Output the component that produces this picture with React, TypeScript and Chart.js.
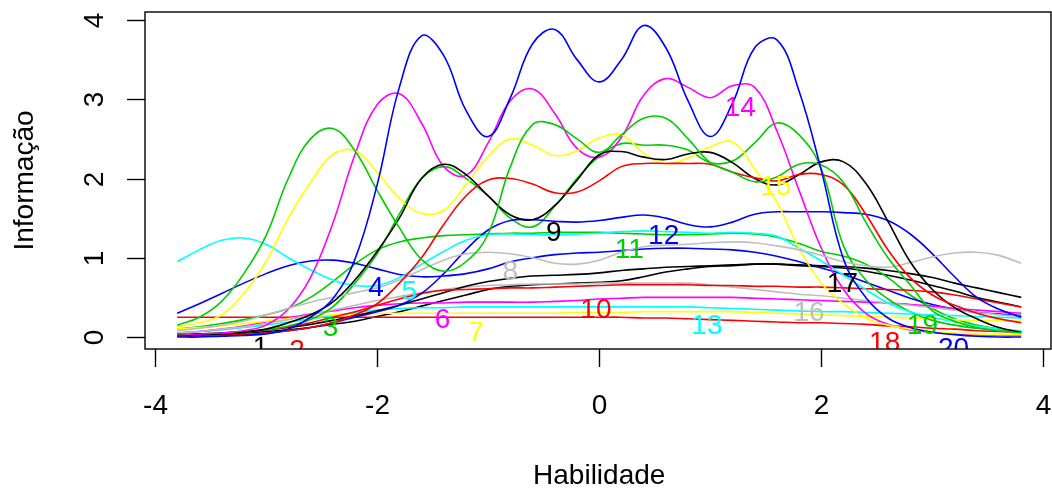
import { useEffect, useRef } from "react";
import { Chart, registerables } from "chart.js";

Chart.register(...registerables);

// Ability grid (theta) shared by every item curve
const theta = [
  -3.8, -3.6, -3.4, -3.2, -3.0, -2.8, -2.6, -2.4, -2.2, -2.0, -1.8, -1.6, -1.4,
  -1.2, -1.0, -0.8, -0.6, -0.4, -0.2, 0.0, 0.2, 0.4, 0.6, 0.8, 1.0, 1.2, 1.4,
  1.6, 1.8, 2.0, 2.2, 2.4, 2.6, 2.8, 3.0, 3.2, 3.4, 3.6, 3.8,
];

// Item information curves, one array per item
const item01 = [0.02,0.03,0.04,0.05,0.07,0.09,0.12,0.16,0.2,0.26,0.32,0.39,0.46,0.53,0.6,0.64,0.66,0.67,0.68,0.69,0.71,0.76,0.82,0.86,0.89,0.9,0.92,0.92,0.9,0.89,0.87,0.83,0.78,0.72,0.65,0.58,0.5,0.44,0.38];
const item02 = [0.25,0.25,0.25,0.25,0.25,0.25,0.25,0.25,0.25,0.25,0.25,0.25,0.25,0.25,0.25,0.25,0.25,0.25,0.25,0.25,0.25,0.24,0.24,0.23,0.22,0.21,0.2,0.19,0.18,0.18,0.17,0.16,0.14,0.13,0.11,0.1,0.08,0.07,0.06];
const item03 = [0.1,0.13,0.17,0.22,0.28,0.36,0.5,0.7,0.92,1.1,1.2,1.25,1.28,1.29,1.3,1.31,1.31,1.32,1.32,1.32,1.31,1.3,1.29,1.29,1.3,1.31,1.3,1.26,1.18,1.08,1.02,0.92,0.75,0.53,0.36,0.23,0.15,0.1,0.07];
const item04 = [0.3,0.42,0.55,0.68,0.8,0.9,0.96,0.97,0.93,0.86,0.79,0.76,0.77,0.8,0.86,0.95,1.0,1.04,1.06,1.07,1.09,1.11,1.12,1.12,1.11,1.1,1.07,1.02,0.95,0.87,0.79,0.69,0.59,0.49,0.41,0.35,0.31,0.29,0.27];
const item05 = [0.05,0.07,0.09,0.12,0.15,0.19,0.23,0.27,0.31,0.34,0.36,0.37,0.37,0.38,0.38,0.38,0.38,0.38,0.38,0.38,0.38,0.38,0.38,0.38,0.37,0.36,0.35,0.34,0.33,0.32,0.32,0.31,0.3,0.29,0.28,0.27,0.26,0.25,0.24];
const item06 = [0.05,0.07,0.1,0.14,0.19,0.24,0.29,0.33,0.37,0.4,0.42,0.43,0.43,0.44,0.44,0.44,0.44,0.45,0.46,0.48,0.49,0.5,0.5,0.5,0.5,0.5,0.49,0.48,0.47,0.46,0.45,0.44,0.43,0.41,0.39,0.36,0.34,0.32,0.3];
const item07 = [0.1,0.12,0.14,0.17,0.2,0.23,0.26,0.28,0.29,0.3,0.3,0.3,0.3,0.3,0.3,0.3,0.3,0.3,0.31,0.31,0.31,0.32,0.32,0.32,0.32,0.32,0.31,0.3,0.29,0.28,0.27,0.26,0.25,0.24,0.23,0.22,0.21,0.21,0.2];
const item08 = [0.05,0.07,0.1,0.13,0.17,0.22,0.28,0.34,0.4,0.46,0.51,0.56,0.6,0.63,0.65,0.66,0.67,0.67,0.67,0.68,0.68,0.68,0.68,0.68,0.66,0.63,0.6,0.57,0.54,0.52,0.49,0.46,0.43,0.4,0.37,0.34,0.31,0.28,0.26];
const item09 = [0.03,0.04,0.05,0.07,0.09,0.12,0.16,0.21,0.27,0.33,0.4,0.48,0.56,0.64,0.7,0.74,0.77,0.78,0.79,0.81,0.84,0.86,0.88,0.89,0.9,0.91,0.92,0.92,0.91,0.9,0.89,0.87,0.84,0.8,0.75,0.68,0.62,0.56,0.5];
const item10 = [0.02,0.03,0.04,0.06,0.09,0.13,0.18,0.25,0.32,0.4,0.48,0.55,0.59,0.6,0.61,0.62,0.62,0.63,0.64,0.65,0.66,0.66,0.66,0.66,0.65,0.65,0.64,0.64,0.63,0.63,0.62,0.61,0.6,0.59,0.57,0.53,0.48,0.43,0.38];
const item11 = [0.02,0.03,0.04,0.06,0.09,0.14,0.22,0.38,0.68,1.05,1.55,2.0,2.15,2.0,1.78,1.5,1.39,1.65,2.0,2.28,2.44,2.42,2.42,2.36,2.2,2.22,2.45,2.7,2.55,2.12,1.15,0.72,0.48,0.32,0.21,0.15,0.11,0.08,0.06];
const item12 = [0.01,0.01,0.02,0.03,0.05,0.08,0.12,0.18,0.25,0.32,0.4,0.55,0.8,1.1,1.35,1.47,1.48,1.46,1.45,1.47,1.51,1.54,1.5,1.42,1.39,1.45,1.55,1.58,1.58,1.58,1.57,1.55,1.47,1.3,1.05,0.76,0.5,0.35,0.25];
const item13 = [0.95,1.1,1.22,1.25,1.17,1.0,0.85,0.72,0.65,0.65,0.75,0.92,1.08,1.22,1.29,1.3,1.29,1.29,1.3,1.31,1.33,1.34,1.33,1.32,1.31,1.32,1.31,1.27,1.12,0.96,0.78,0.6,0.43,0.32,0.25,0.19,0.14,0.1,0.08];
const item14 = [0.02,0.03,0.05,0.08,0.15,0.35,0.75,1.43,2.3,2.93,3.07,2.7,2.15,2.04,2.45,2.98,3.13,2.82,2.38,2.27,2.52,3.05,3.26,3.15,3.02,3.17,3.15,2.6,1.85,1.12,0.6,0.3,0.16,0.09,0.06,0.04,0.03,0.02,0.02];
const item15 = [0.13,0.18,0.28,0.55,0.95,1.5,1.95,2.3,2.35,2.08,1.75,1.56,1.6,1.92,2.28,2.5,2.42,2.29,2.35,2.51,2.55,2.32,2.19,2.26,2.4,2.46,2.12,1.7,1.12,0.68,0.42,0.24,0.15,0.1,0.07,0.05,0.04,0.03,0.03];
const item16 = [0.08,0.11,0.15,0.2,0.28,0.36,0.44,0.5,0.56,0.62,0.72,0.85,0.97,1.05,1.07,1.05,1.0,0.93,0.92,0.97,1.07,1.14,1.16,1.17,1.19,1.2,1.19,1.15,1.1,1.03,0.95,0.9,0.88,0.94,1.01,1.06,1.07,1.03,0.93];
const item17 = [0.01,0.02,0.03,0.06,0.1,0.18,0.28,0.44,0.72,1.08,1.5,2.0,2.18,2.05,1.78,1.54,1.48,1.66,1.98,2.3,2.34,2.27,2.24,2.31,2.33,2.2,2.0,1.92,2.05,2.21,2.21,1.94,1.46,0.95,0.6,0.37,0.23,0.12,0.06];
const item18 = [0.01,0.01,0.02,0.03,0.05,0.08,0.12,0.18,0.28,0.42,0.68,1.0,1.42,1.78,1.98,2.0,1.93,1.82,1.83,1.97,2.15,2.19,2.19,2.19,2.18,2.08,2.01,1.97,2.05,2.05,1.92,1.55,1.1,0.75,0.53,0.4,0.3,0.23,0.18];
const item19 = [0.15,0.25,0.45,0.8,1.28,2.0,2.5,2.63,2.35,1.85,1.38,0.98,0.83,0.95,1.3,2.15,2.68,2.68,2.5,2.33,2.55,2.76,2.76,2.5,2.2,2.08,1.96,2.02,2.18,2.17,1.95,1.45,1.0,0.66,0.33,0.2,0.12,0.08,0.05];
const item20 = [0.0,0.0,0.01,0.02,0.04,0.1,0.25,0.48,0.98,1.92,3.15,3.8,3.55,2.86,2.53,3.02,3.7,3.88,3.5,3.22,3.5,3.93,3.65,2.98,2.53,2.95,3.65,3.75,3.1,2.1,0.98,0.5,0.24,0.12,0.06,0.03,0.01,0.0,0.0];

const itemCurves = [
  item01, item02, item03, item04, item05, item06, item07, item08, item09, item10,
  item11, item12, item13, item14, item15, item16, item17, item18, item19, item20,
];

// Base palette, cycled across items
const palette = ["#000000", "#FF0000", "#00CD00", "#0000FF", "#00FFFF", "#FF00FF", "#FFFF00", "#BEBEBE"];

// Item number labels and where they sit (theta, information)
const labelText = ["1","2","3","4","5","6","7","8","9","10","11","12","13","14","15","16","17","18","19","20"];
const labelTheta = [-3.05,-2.72,-2.42,-2.01,-1.71,-1.41,-1.11,-0.8,-0.41,-0.03,0.27,0.58,0.97,1.27,1.59,1.89,2.19,2.57,2.91,3.19];
const labelInfo = [-0.14,-0.18,0.11,0.61,0.57,0.21,0.05,0.82,1.31,0.34,1.09,1.27,0.14,2.88,1.89,0.3,0.66,-0.08,0.13,-0.16];

// Axis ticks and titles
const xTicks = [-4, -2, 0, 2, 4];
const yTicks = [0, 1, 2, 3, 4];
const xTitle = "Habilidade";
const yTitle = "Informação";

const FONT = '28px "Liberation Sans", Arial, Helvetica, sans-serif';

const baseGraphics = {
  id: "baseGraphics",
  afterDatasetsDraw(chart: any) {
    const { ctx, chartArea, scales } = chart;
    const xs = scales.x;
    const ys = scales.y;
    ctx.save();

    // item labels, clipped to the plotting region
    ctx.save();
    ctx.beginPath();
    ctx.rect(chartArea.left, chartArea.top, chartArea.right - chartArea.left, chartArea.bottom - chartArea.top);
    ctx.clip();
    ctx.font = FONT;
    ctx.textAlign = "center";
    ctx.textBaseline = "middle";
    labelText.forEach((t, i) => {
      ctx.fillStyle = palette[i % palette.length];
      ctx.fillText(t, xs.getPixelForValue(labelTheta[i]), ys.getPixelForValue(labelInfo[i]));
    });
    ctx.restore();

    // frame
    ctx.strokeStyle = "#000";
    ctx.lineWidth = 1.4;
    ctx.strokeRect(chartArea.left, chartArea.top, chartArea.right - chartArea.left, chartArea.bottom - chartArea.top);

    // x axis ticks and labels
    ctx.fillStyle = "#000";
    ctx.font = FONT;
    ctx.textAlign = "center";
    ctx.textBaseline = "alphabetic";
    xTicks.forEach((v) => {
      const px = Math.round(xs.getPixelForValue(v)) + 0.5;
      ctx.beginPath();
      ctx.moveTo(px, chartArea.bottom);
      ctx.lineTo(px, chartArea.bottom + 18);
      ctx.stroke();
      ctx.fillText(String(v).replace("-", "-"), px, 414);
    });
    ctx.fillText(xTitle, (xs.getPixelForValue(-4.09) + xs.getPixelForValue(4.09)) / 2, 484);

    // y axis ticks and rotated labels
    yTicks.forEach((v) => {
      const py = Math.round(ys.getPixelForValue(v)) + 0.5;
      ctx.beginPath();
      ctx.moveTo(chartArea.left - 18, py);
      ctx.lineTo(chartArea.left, py);
      ctx.stroke();
      ctx.save();
      ctx.translate(103, py);
      ctx.rotate(-Math.PI / 2);
      ctx.fillText(String(v), 0, 0);
      ctx.restore();
    });
    ctx.save();
    ctx.translate(33, (chartArea.top + chartArea.bottom) / 2);
    ctx.rotate(-Math.PI / 2);
    ctx.fillText(yTitle, 0, 0);
    ctx.restore();

    ctx.restore();
  },
};

export default function App() {
  const canvasRef = useRef<HTMLCanvasElement | null>(null);

  useEffect(() => {
    const canvas = canvasRef.current;
    if (!canvas) return;

    // later items are drawn on top
    const datasets = itemCurves
      .map((vals, i) => ({
        label: labelText[i],
        data: theta.map((t, k) => ({ x: t, y: vals[k] })),
        borderColor: palette[i % palette.length],
        backgroundColor: palette[i % palette.length],
        borderWidth: 1.6,
        pointRadius: 0,
        tension: 0.4,
        fill: false,
        order: 20 - i,
      }));

    const chart = new Chart(canvas, {
      type: "line",
      data: { datasets },
      options: {
        animation: false,
        responsive: false,
        maintainAspectRatio: false,
        events: [],
        layout: { padding: { left: 145, right: 1, top: 12, bottom: 145 } },
        plugins: { legend: { display: false }, tooltip: { enabled: false } },
        scales: {
          x: { type: "linear", display: false, min: -4.09, max: 4.068 },
          y: { type: "linear", display: false, min: -0.151, max: 4.101 },
        },
      },
      plugins: [baseGraphics],
    });

    return () => chart.destroy();
  }, []);

  return (
    <div style={{ position: "fixed", left: 0, top: 0, width: 1052, height: 494, background: "#fff" }}>
      <canvas ref={canvasRef} width={1052} height={494} style={{ display: "block" }} />
    </div>
  );
}
